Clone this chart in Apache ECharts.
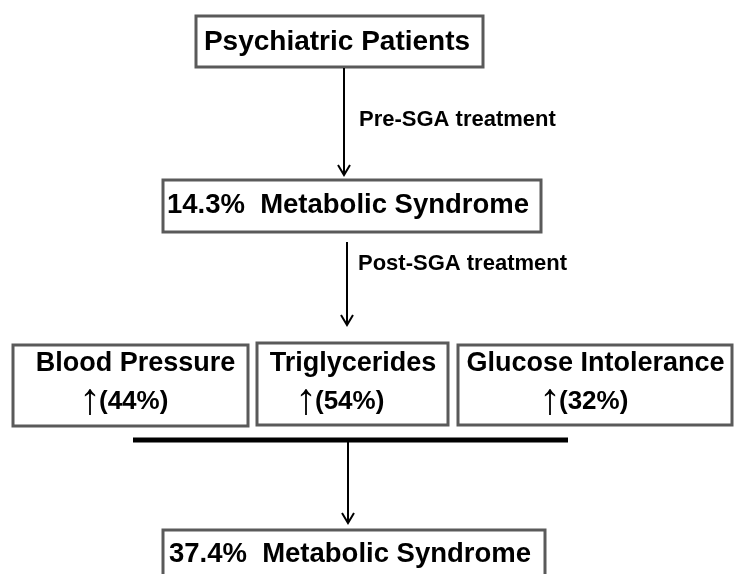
<!DOCTYPE html>
<html>
<head>
<meta charset="utf-8">
<script src="https://cdn.jsdelivr.net/npm/echarts@6/dist/echarts.min.js"></script>
<style>
html,body{margin:0;padding:0;background:#fff;}
#c{width:734px;height:574px;}
</style>
</head>
<body>
<div id="c"></div>
<script>
// ---- data ----
const startGroup = "Psychiatric Patients";
const stepLabels = ["Pre-SGA treatment", "Post-SGA treatment"];
const syndromePrevalence = [14.3, 37.4];
const componentNames = ["Blood Pressure", "Triglycerides", "Glucose Intolerance"];
const componentIncrease = [44, 54, 32];

// ---- layout (positions/styles only) ----
const FONT = '"Liberation Sans", Arial, sans-serif';
const BORDER = '#5a5a5a';
const mainBoxes = [
  {x:196, y:16, w:287, h:51, tx:337, ty:42, fs:28},
  {x:163, y:180, w:378, h:52, tx:348, ty:205, fs:27.5},
  {x:163, y:530, w:382, h:70, tx:350, ty:554, fs:27.5}
];
const compBoxes = [
  {x:13, y:345, w:235, h:81, tx:135.5, ty:364, ax:81},
  {x:257, y:343, w:191, h:82, tx:353, ty:364, ax:297},
  {x:458, y:345, w:274, h:80, tx:595.5, ty:364, ax:541}
];
const arrows = [
  {x:344, y1:68, y2:175},
  {x:347, y1:242, y2:325},
  {x:348, y1:440, y2:523}
];
const stepPos = [{x:359, y:120}, {x:358, y:264}];

const els = [];
function box(b){
  els.push({type:'rect', shape:{x:b.x, y:b.y, width:b.w, height:b.h},
    style:{fill:'#fff', stroke:BORDER, lineWidth:3}});
}
function label(text, x, y, fs, align){
  els.push({type:'text', x:x, y:y, style:{text:text, fill:'#000',
    font:'bold ' + fs + 'px ' + FONT, align:align||'center', verticalAlign:'middle'}});
}
function arrow(a){
  els.push({type:'line', shape:{x1:a.x, y1:a.y1, x2:a.x, y2:a.y2},
    style:{stroke:'#000', lineWidth:2}});
  els.push({type:'polyline', shape:{points:[[a.x-6, a.y2-10],[a.x, a.y2],[a.x+6, a.y2-10]]},
    style:{stroke:'#000', lineWidth:2, fill:null}});
}

const mainTexts = [
  startGroup,
  syndromePrevalence[0].toFixed(1) + '%  Metabolic Syndrome',
  syndromePrevalence[1].toFixed(1) + '%  Metabolic Syndrome'
];
mainBoxes.forEach((b,i)=>{ box(b); label(mainTexts[i], b.tx, b.ty, b.fs); });

compBoxes.forEach((b,i)=>{
  box(b);
  label(componentNames[i], b.tx, b.ty, 27);
  els.push({type:'text', x:b.ax, y:b.ty+38, style:{
    text:'{a|↑}{p|(' + componentIncrease[i] + '%)}',
    align:'left', verticalAlign:'middle',
    rich:{
      a:{font:'normal 44px ' + FONT, fill:'#000', verticalAlign:'middle', width:18, align:'center'},
      p:{font:'bold 26px ' + FONT, fill:'#000', verticalAlign:'middle'}
    }}});
});

arrows.forEach(arrow);
stepLabels.forEach((s,i)=> label(s, stepPos[i].x, stepPos[i].y, 22, 'left'));

els.push({type:'line', shape:{x1:133, y1:440, x2:568, y2:440},
  style:{stroke:'#000', lineWidth:5}});

const chart = echarts.init(document.getElementById('c'), null, {renderer:'canvas'});
chart.setOption({
  backgroundColor:'#fff',
  animation:false,
  graphic:{elements:els}
});
</script>
</body>
</html>
